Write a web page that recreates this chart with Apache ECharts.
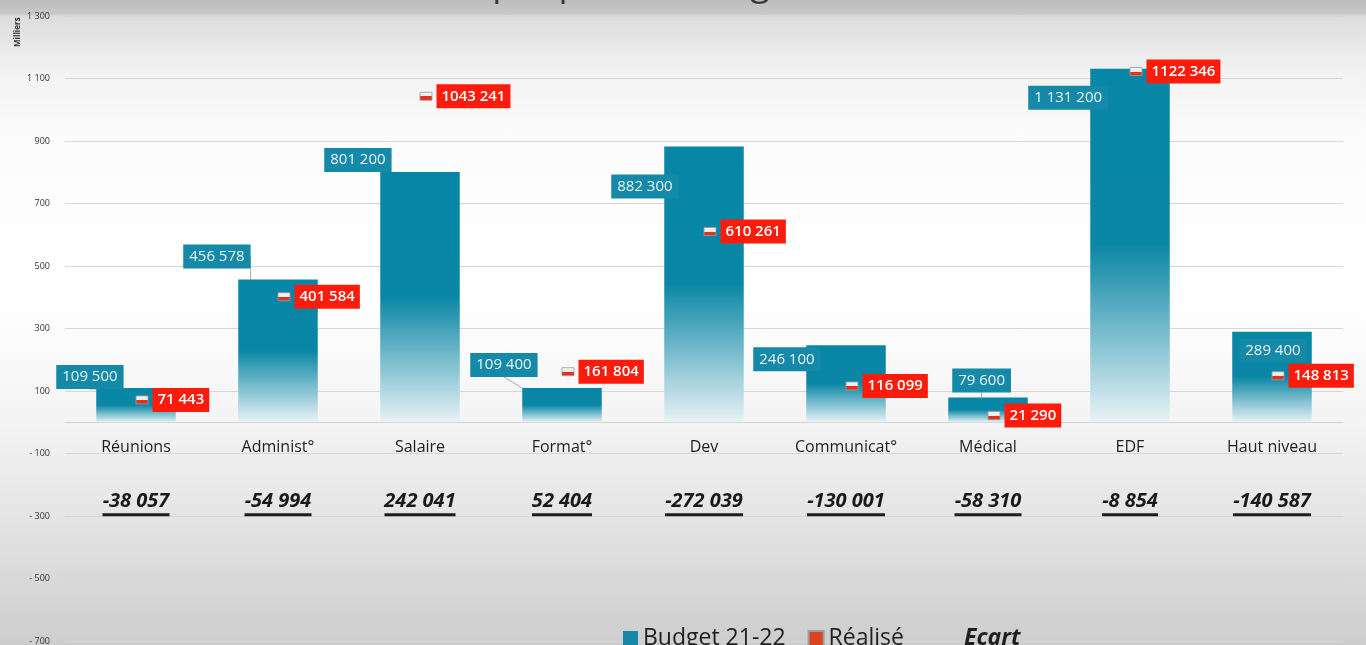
<!DOCTYPE html>
<html lang="fr">
<head>
<meta charset="utf-8">
<title>Budget 21-22 / Réalisé</title>
<script src="https://cdn.jsdelivr.net/npm/echarts@6/dist/echarts.min.js"></script>
<style>
  html, body { margin: 0; padding: 0; width: 1366px; height: 645px; overflow: hidden; }
  #chart {
    width: 1366px; height: 645px;
    background: linear-gradient(to bottom,
      #bdbdbd 0px, #c8c8c8 14px, #dcdcdc 16px, #f2f2f2 70px,
      #fcfcfc 140px, #ffffff 300px, #f4f4f4 420px, #e4e4e4 520px, #cdcdcd 645px);
  }
</style>
</head>
<body>
<div id="chart"></div>
<script>
// Postes de dépense
const categories = ['Réunions', 'Administ°', 'Salaire', 'Format°', 'Dev', 'Communicat°', 'Médical', 'EDF', 'Haut niveau'];
// Budget 21-22 (en euros)
const budget = [109500, 456578, 801200, 109400, 882300, 246100, 79600, 1131200, 289400];
// Réalisé (en euros)
const realise = [71443, 401584, 1043241, 161804, 610261, 116099, 21290, 1122346, 148813];
// Ecart réalisé - budget
const ecart = [-38057, -54994, 242041, 52404, -272039, -130001, -58310, -8854, -140587];
// Axe des valeurs (affiché en milliers)
const yMin = -700000, yMax = 1300000, yStep = 200000;

const FONT = '"Open Sans", "Noto Sans", sans-serif';

// Placement des étiquettes du budget par rapport au coin haut-gauche de chaque barre
const budgetLabelShift = [[-40, -23], [-55, -35], [-56, -24], [-52, -35], [-53, 28], [-53, 2], [4, -29], [-62, 17], [7, 7]];
const withLeader = [0, 1, 3, 6];

const group3 = v => String(v).replace(/\B(?=(\d{3})+(?!\d))/g, ' ');
const fmtBudget = v => group3(v);
const fmtRealise = v => v >= 1000 ? Math.floor(v / 1000) + ' ' + String(v % 1000).padStart(3, '0') : String(v);
const fmtEcart = v => (v < 0 ? '-' : '') + group3(Math.abs(v));
const fmtAxis = v => { const k = Math.round(v / 1000); return (k < 0 ? '- ' : '') + group3(Math.abs(k)); };

// Largeur des soulignements des écarts
const ctx = document.createElement('canvas').getContext('2d');
ctx.font = 'italic bold 20px ' + FONT;
const rich = {
  n: { fontSize: 16, color: '#1e1e1e', lineHeight: 22, fontFamily: FONT },
  s: { fontSize: 10, lineHeight: 32 },
  e: { fontSize: 20, fontWeight: 'bold', fontStyle: 'italic', color: '#1a1a1a', lineHeight: 23, fontFamily: FONT }
};
ecart.forEach((v, i) => {
  rich['u' + i] = { width: Math.round(ctx.measureText(fmtEcart(v)).width), height: 3, lineHeight: 3, backgroundColor: '#1e1e1e', fontSize: 1 };
});

const teal = new echarts.graphic.LinearGradient(0, 0, 0, 1, [
  { offset: 0, color: '#0786a5' },
  { offset: 0.5, color: '#0b87a6' },
  { offset: 1, color: '#e8f2f5' }
]);
const markerFill = new echarts.graphic.LinearGradient(0, 0, 0, 1, [
  { offset: 0, color: '#f6f6f6' },
  { offset: 0.5, color: '#ececec' },
  { offset: 0.5, color: '#e5301c' },
  { offset: 1, color: '#e5301c' }
]);

const chart = echarts.init(document.getElementById('chart'), null, { renderer: 'canvas' });
chart.setOption({
  backgroundColor: 'transparent',
  animation: false,
  textStyle: { fontFamily: FONT },
  title: {
    text: 'Réalisé par poste / budget',
    left: 360, top: -38,
    textStyle: { fontSize: 36, fontWeight: 'normal', color: '#3a3a3a', fontFamily: FONT }
  },
  graphic: [{
    type: 'text', x: 14, y: 47, rotation: Math.PI / 2,
    style: { text: 'Milliers', fontSize: 8, fontWeight: 'bold', fill: '#333', fontFamily: FONT }
  }],
  legend: {
    left: 618, top: 622,
    itemWidth: 15, itemHeight: 15, itemGap: 22,
    textStyle: { fontSize: 23, color: '#1e1e1e', fontFamily: FONT },
    data: [
      { name: 'Budget 21-22', icon: 'rect', itemStyle: { color: '#1688a8' } },
      { name: 'Réalisé', icon: 'rect', itemStyle: { color: '#d9441f' } },
      { name: 'Ecart', icon: 'rect', itemStyle: { opacity: 0 }, textStyle: { fontWeight: 'bold', fontStyle: 'italic', padding: [0, 0, 0, 18] } }
    ]
  },
  grid: { left: 65, right: 23, top: 16, bottom: 4, containLabel: false, outerBoundsMode: 'none' },
  xAxis: {
    type: 'category',
    data: categories,
    axisTick: { show: false },
    axisLine: { show: true, onZero: false, lineStyle: { color: '#d2d2d2', width: 1 } },
    axisLabel: {
      interval: 0, margin: 14,
      formatter: (val, i) => `{n|${val}}\n{s| }\n{e|${fmtEcart(ecart[i])}}\n{u${i}| }`,
      rich
    }
  },
  yAxis: {
    type: 'value',
    min: yMin, max: yMax, interval: yStep,
    axisLine: { show: false },
    axisTick: { show: false },
    axisLabel: { formatter: fmtAxis, fontSize: 9, color: '#333', margin: 15, fontFamily: FONT },
    splitLine: { lineStyle: { color: '#d6d6d6', width: 1 } }
  },
  series: [
    {
      name: 'Budget 21-22',
      type: 'bar',
      barWidth: '56%',
      itemStyle: { color: teal },
      data: budget.map((v, i) => ({ value: v, labelLine: { show: withLeader.includes(i) } })),
      label: {
        show: true,
        formatter: p => fmtBudget(p.value),
        color: '#eef4f6', fontSize: 15, fontFamily: FONT,
        backgroundColor: '#1589a8', padding: [4, 6], lineHeight: 16
      },
      labelLine: { lineStyle: { color: '#a8a8a8', width: 1 } },
      labelLayout: p => ({
        x: p.rect.x + budgetLabelShift[p.dataIndex][0],
        y: p.rect.y + budgetLabelShift[p.dataIndex][1],
        align: 'left', verticalAlign: 'top'
      })
    },
    {
      name: 'Réalisé',
      type: 'scatter',
      symbol: 'rect',
      symbolSize: [12, 8],
      symbolOffset: [6, 0],
      itemStyle: { color: markerFill, borderColor: '#9c9c9c', borderWidth: 0.8, opacity: 1 },
      data: realise,
      z: 5,
      label: {
        show: true, position: 'right', distance: 4,
        formatter: p => fmtRealise(p.value),
        color: '#ffffff', fontSize: 15, fontWeight: 600, fontFamily: FONT,
        backgroundColor: '#fd1c0c', padding: [4, 5], lineHeight: 16, opacity: 1
      }
    },
    { name: 'Ecart', type: 'line', data: [] }
  ]
});

// L'axe des catégories (trait et libellés) est placé sur la valeur zéro
const zeroY = chart.convertToPixel({ yAxisIndex: 0 }, 0);
const baseY = chart.convertToPixel({ yAxisIndex: 0 }, yMin);
chart.setOption({ xAxis: { offset: zeroY - baseY } });
</script>
</body>
</html>
